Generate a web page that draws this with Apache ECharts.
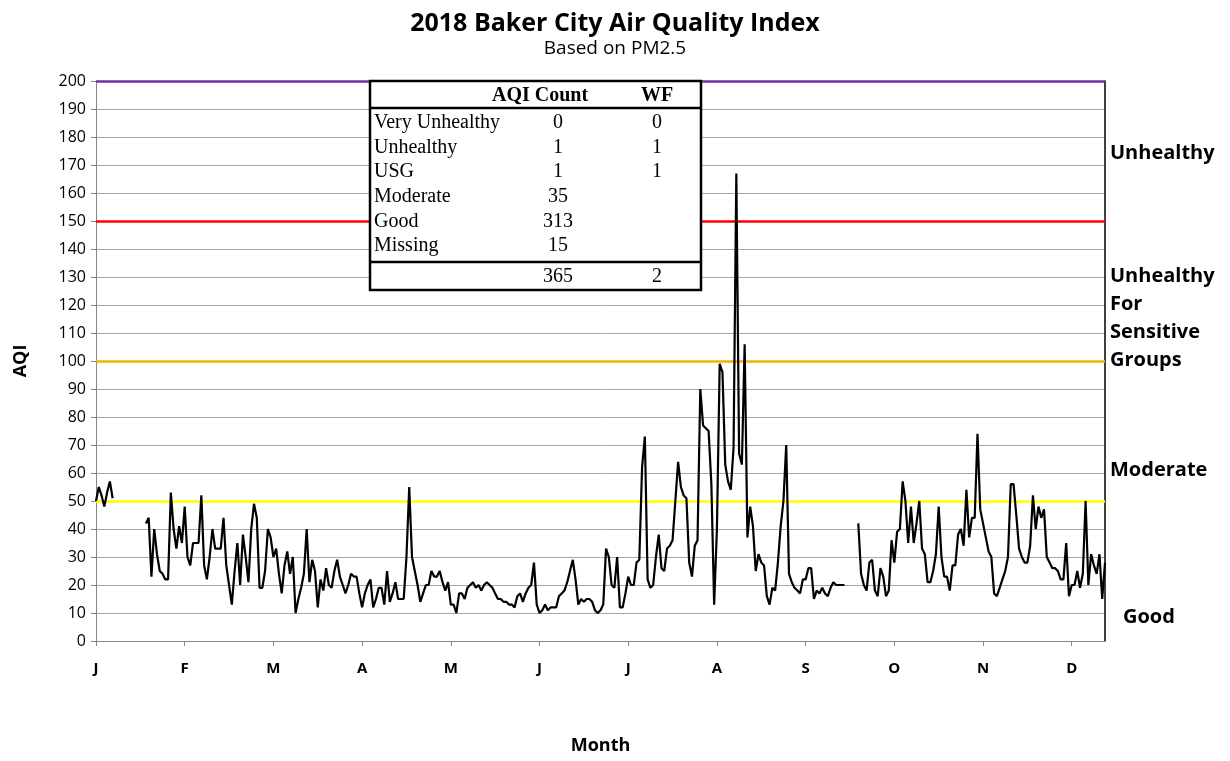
<!DOCTYPE html>
<html>
<head>
<meta charset="utf-8">
<title>2018 Baker City Air Quality Index</title>
<script src="https://cdn.jsdelivr.net/npm/echarts@6/dist/echarts.min.js"></script>
<style>
  html, body { margin: 0; padding: 0; background: #fff; }
  #chart { width: 1230px; height: 761px; }
</style>
</head>
<body>
<div id="chart"></div>
<script>
// daily AQI (PM2.5), Jan 1 .. Dec 31 2018, null = missing day
const dailyAQI = [
  50, 55, 52, 48, 53, 57, 51,
  null, null, null, null, null, null, null, null, null, null, null,
  42, 44, 23, 40, 31, 25, 24, 22, 22, 53, 40, 33, 41, 35, 48, 30, 27, 35, 35, 35, 52, 27,
  22, 30, 40, 33, 33, 33, 44, 27, 20, 13, 25, 35, 20, 38, 30, 21, 40, 49, 44, 19,
  19, 25, 40, 37, 30, 33, 24, 17, 27, 32, 24, 30, 10, 15, 19, 24, 40, 21, 29, 25,
  12, 22, 18, 26, 20, 19, 25, 29, 23, 20, 17, 20, 24, 23, 23, 17, 12, 17, 20, 22,
  12, 15, 19, 19, 13, 25, 14, 17, 21, 15, 15, 15, 30, 55, 30, 25, 20, 14, 17, 20,
  20, 25, 23, 23, 25, 21, 18, 21, 13, 13, 10, 17, 17, 15, 19, 20, 21, 19, 20, 18,
  20, 21, 20, 19, 17, 15, 15, 14, 14, 13, 13, 12, 16, 17, 14, 17, 19, 20, 28, 13,
  10, 11, 13, 11, 12, 12, 12, 16, 17, 18, 21, 25, 29, 22, 13, 15, 14, 15, 15, 14,
  11, 10, 11, 13, 33, 30, 20, 19, 30, 12, 12, 17, 23, 20, 20, 28, 29, 62, 73, 22,
  19, 20, 30, 38, 26, 25, 33, 34, 36, 50, 64, 55, 52, 51, 28, 23, 34, 36, 90, 77,
  76, 75, 56, 13, 40, 99, 96, 63, 57, 54, 69, 167, 67, 63, 106, 37, 48, 41, 25, 31,
  28, 27, 16, 13, 19, 18, 28, 41, 50, 70, 24, 21, 19, 18, 17, 22, 22, 26, 26, 15,
  18, 17, 19, 17, 16, 19, 21, 20, 20, 20, 20,
  null, null, null, null,
  42, 24, 20, 18, 28, 29, 18, 16, 26, 23, 16, 18, 36, 28, 39, 40, 57, 50, 35, 48,
  35, 42, 50, 33, 31, 21, 21, 25, 31, 48, 30, 23, 23, 18, 27, 27, 38, 40, 34, 54,
  37, 44, 44, 74, 47, 42, 37, 32, 30, 17, 16, 19, 22, 25, 30, 56, 56, 45, 33, 30,
  28, 28, 34, 52, 40, 48, 44, 47, 30, 28, 26, 26, 25, 22, 22, 35, 16, 20, 20, 25,
  19, 24, 50, 20, 31, 27, 24, 31, 15, 28
];

// AQI category break points drawn as horizontal lines
const breakValues = [50, 100, 150, 200];
const breakColors = ['#ffff00', '#f2b100', '#ff0000', '#7030a0'];

// summary table
const levelNames = ['Very Unhealthy', 'Unhealthy', 'USG', 'Moderate', 'Good', 'Missing'];
const aqiCounts = [0, 1, 1, 35, 313, 15];
const wfCounts = [0, 1, 1, '', '', ''];
const totalCount = 365;
const totalWF = 2;

// category names on the right side
const sideLabels = ['Unhealthy', 'Unhealthy\nFor\nSensitive\nGroups', 'Moderate', 'Good'];

// one category per day of 2018
const days = [];
for (let i = 0; i < dailyAQI.length; i++) {
  const d = new Date(Date.UTC(2018, 0, 1 + i));
  days.push(d.toISOString().slice(0, 10));
}
const monthLetters = ['J', 'F', 'M', 'A', 'M', 'J', 'J', 'A', 'S', 'O', 'N', 'D'];

const chart = echarts.init(document.getElementById('chart'));

// table drawn as graphic, top-left corner of the plot
const tX = 370, tY = 81, tW = 331, tH = 209;
const rowH = 24.6;
const colCount = 558, colWF = 657;
const serif = '"Liberation Serif", "Times New Roman", serif';
function cell(text, x, y, align, bold) {
  return { type: 'text', z: 101, x: x, y: y,
    style: { text: text, font: (bold ? 'bold ' : '') + '20px ' + serif, fill: '#000', align: align, verticalAlign: 'middle' } };
}
const tableEls = [
  { type: 'rect', z: 100, shape: { x: tX, y: tY, width: tW, height: tH },
    style: { fill: '#fff', stroke: '#000', lineWidth: 2.5 } },
  { type: 'line', z: 101, shape: { x1: tX, y1: tY + 27, x2: tX + tW, y2: tY + 27 },
    style: { stroke: '#000', lineWidth: 2.5 } },
  { type: 'line', z: 101, shape: { x1: tX, y1: tY + 181, x2: tX + tW, y2: tY + 181 },
    style: { stroke: '#000', lineWidth: 2.5 } },
  cell('AQI Count', 540, tY + 15, 'center', true),
  cell('WF', colWF, tY + 15, 'center', true),
  cell(String(totalCount), colCount, tY + 196, 'center', false),
  cell(String(totalWF), colWF, tY + 196, 'center', false)
];
levelNames.forEach((name, i) => {
  const y = tY + 42 + i * rowH;
  tableEls.push(cell(name, tX + 4, y, 'left', false));
  tableEls.push(cell(String(aqiCounts[i]), colCount, y, 'center', false));
  tableEls.push(cell(String(wfCounts[i]), colWF, y, 'center', false));
});

// right side labels
const sidePos = [[1110, 153], [1110, 318], [1110, 470], [1123, 617]];
const sideEls = sideLabels.map((t, i) => ({
  type: 'text', z: 101, x: sidePos[i][0], y: sidePos[i][1],
  style: { text: t, font: 'bold 20px "Open Sans"', fill: '#000', align: 'left', verticalAlign: 'middle', lineHeight: 28 }
}));

const option = {
  animation: false,
  title: [
    { text: '2018 Baker City Air Quality Index', left: 'center', top: 6,
      textStyle: { fontFamily: 'Open Sans', fontWeight: 'bold', fontSize: 25, color: '#000' } },
    { text: 'Based on PM2.5', left: 'center', top: 34,
      textStyle: { fontFamily: 'Open Sans', fontWeight: 'normal', fontSize: 19, color: '#000' } }
  ],
  grid: { left: 96, right: 125, top: 81, bottom: 120 },
  xAxis: {
    type: 'category',
    data: days,
    boundaryGap: false,
    name: 'Month',
    nameLocation: 'middle',
    nameGap: 96,
    nameTextStyle: { fontFamily: 'Open Sans', fontWeight: 'bold', fontSize: 18, color: '#000' },
    axisLine: { lineStyle: { color: '#868686', width: 1 } },
    axisTick: { show: true, interval: 31, length: 5, lineStyle: { color: '#868686' } },
    axisLabel: {
      interval: 31, margin: 20,
      fontFamily: 'Open Sans', fontWeight: 'bold', fontSize: 15, color: '#000',
      formatter: v => monthLetters[parseInt(v.slice(5, 7), 10) - 1]
    },
    splitLine: { show: false }
  },
  yAxis: [
    {
      type: 'value', min: 0, max: 200, interval: 10,
      name: 'AQI', nameLocation: 'middle', nameRotate: 90, nameGap: 66,
      nameTextStyle: { fontFamily: 'Open Sans', fontWeight: 'bold', fontSize: 18, color: '#000' },
      axisLine: { show: true, lineStyle: { color: '#868686', width: 1 } },
      axisTick: { show: true, length: 5, lineStyle: { color: '#868686' } },
      axisLabel: { fontFamily: 'Open Sans', fontSize: 16, color: '#000', margin: 10 },
      splitLine: { show: true, lineStyle: { color: '#a6a6a6', width: 1 } }
    },
    {
      type: 'value', min: 0, max: 200, interval: 10, position: 'right',
      axisLine: { show: true, lineStyle: { color: '#000', width: 1.5 } },
      axisTick: { show: false }, axisLabel: { show: false }, splitLine: { show: false }
    }
  ],
  series: [
    {
      name: 'AQI',
      type: 'line',
      data: dailyAQI,
      showSymbol: false,
      connectNulls: false,
      lineStyle: { color: '#000', width: 2.2 },
      z: 3,
      markLine: {
        silent: true,
        symbol: 'none',
        label: { show: false },
        z: 2,
        data: breakValues.map((v, i) => ({ yAxis: v, lineStyle: { color: breakColors[i], width: 2.5, type: 'solid' } }))
      }
    }
  ],
  graphic: tableEls.concat(sideEls)
};
chart.setOption(option);
</script>
</body>
</html>
